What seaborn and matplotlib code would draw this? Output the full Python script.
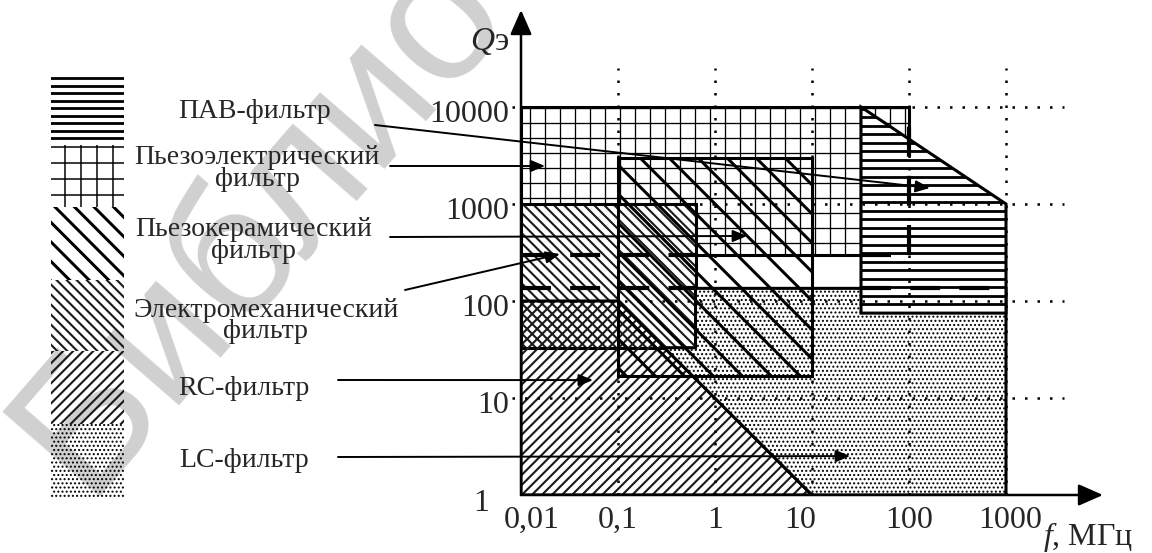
import numpy as np
import matplotlib
matplotlib.use("Agg")
import matplotlib.pyplot as plt
import matplotlib.transforms as mtransforms
from matplotlib.patches import Polygon, Rectangle
from matplotlib.collections import LineCollection
import seaborn as sns

# ------------------------------------------------------------------ data
f_ticks = [0.01, 0.1, 1, 10, 100, 1000]
f_labels = ["0,01", "0,1", "1", "10", "100", "1000"]
q_ticks = [1, 10, 100, 1000, 10000]
q_labels = ["1", "10", "100", "1000", "10000"]

# filter regions: frequency f (MHz) and quality factor Q
piezoelectric_f = [0.01, 100, 100, 0.01]
piezoelectric_q = [300, 300, 10000, 10000]
electromech_f = [0.01, 0.63, 0.63, 0.01]
electromech_q = [33, 33, 1000, 1000]
rc_f = [0.01, 10, 0.1, 0.01]
rc_q = [1, 1, 100, 100]
lc_f = [0.63, 1000, 1000, 10, 0.3, 0.63]
lc_q = [135, 135, 1, 1, 33, 33]
saw_f = [32, 1000, 1000, 32]
saw_q = [75, 75, 1000, 10000]
ceramic_f = [0.1, 10, 10, 0.1]
ceramic_q = [17, 17, 3000, 3000]

# dashed boundaries
dash_f = [[0.01, 0.63], [0.01, 0.63], [32, 100], [32, 1000], [100, 100]]
dash_q = [[300, 300], [135, 135], [300, 300], [135, 135], [300, 10000]]

names = ["ПАВ-фильтр", "Пьезоэлектрический\nфильтр", "Пьезокерамический\nфильтр",
         "Электромеханический\nфильтр", "RC-фильтр", "LC-фильтр"]
arrow_tip_f = [164, 0.0177, 2.14, 0.0252, 0.0552, 24.7]
arrow_tip_q = [1462, 2465, 468, 305, 15.3, 2.52]

# ------------------------------------------------------------------ style
sns.set_theme(style="white")
plt.rcParams["font.family"] = ["Liberation Serif", "DejaVu Serif"]
plt.rcParams["mathtext.fontset"] = "custom"
plt.rcParams["mathtext.it"] = "Liberation Serif:italic"
plt.rcParams["mathtext.rm"] = "Liberation Serif"
plt.rcParams["hatch.linewidth"] = 0.95
plt.rcParams["lines.solid_capstyle"] = "butt"

W, H = 1152, 553
fig = plt.figure(figsize=(W / 100, H / 100), dpi=100)
fig.patch.set_facecolor("white")
pix = mtransforms.Affine2D().scale(1, -1).translate(0, H)   # image pixels (top-left origin)

ax = fig.add_axes([521 / W, (H - 495) / H, (1103 - 521) / W, (495 - 10) / H])
ax.set_xscale("log")
ax.set_yscale("log")
ax.set_xlim(0.01, 1e4)
ax.set_ylim(1, 1e5)
ax.axis("off")

# watermark
fig.text(90, 508, "Библиотека БГУИР", transform=pix, rotation=49, rotation_mode="anchor",
         ha="left", va="baseline", fontsize=135, color="#d0d0d0",
         family=["Liberation Sans", "DejaVu Sans"], zorder=-5)


def line_hatch(clip, angle, spacing, lw_px, color="black", z=1.0, on_axes=True):
    a = np.deg2rad(angle)
    d = np.array([np.cos(a), np.sin(a)])
    n = np.array([-np.sin(a), np.cos(a)])
    L = 1400.0
    offs = np.arange(-L, L, spacing)
    segs = np.stack([offs[:, None] * n - L * d, offs[:, None] * n + L * d], axis=1)
    lc = LineCollection(segs, transform=mtransforms.IdentityTransform(),
                        linewidths=lw_px * 0.72, colors=color, zorder=z)
    lc.set_clip_path(clip)
    if on_axes:
        ax.add_collection(lc, autolim=False)
    else:
        fig.add_artist(lc)


def region(fv, qv, z, face="white", hatch=None):
    xy = np.column_stack([fv, qv])
    fill = Polygon(xy, closed=True, facecolor=face, edgecolor="black", lw=0,
                   hatch=hatch, zorder=z, transform=ax.transData)
    ax.add_patch(fill)
    edge = Polygon(xy, closed=True, facecolor="none", edgecolor="black", lw=2.2,
                   joinstyle="miter", zorder=z + 0.05, transform=ax.transData)
    ax.add_patch(edge)
    return fill


FINE = "#1a1a1a"
# layer 1: piezoelectric (grid)
p = region(piezoelectric_f, piezoelectric_q, 1)
line_hatch(p, 0, 15, 1.3, z=1.01)
line_hatch(p, 90, 15, 1.3, z=1.01)
# layer 2: electromechanical (fine \\)
p = region(electromech_f, electromech_q, 2)
line_hatch(p, -45, 7.1, 2.1, color=FINE, z=2.01)
# layer 3: RC (fine //)
p = region(rc_f, rc_q, 3, face="none")
line_hatch(p, 45, 7.1, 2.1, color=FINE, z=3.01)
# layer 4: LC (dots)
region(lc_f, lc_q, 4, face="white", hatch="....")
# layer 5: SAW (horizontal)
p = region(saw_f, saw_q, 5)
line_hatch(p, 0, 8.5, 2.8, z=5.01)
# layer 6: piezoceramic (thick \\)
p = region(ceramic_f, ceramic_q, 6, face="none")
line_hatch(p, -45, 20.5, 3.0, z=6.01)

# dashed boundaries
for fv, qv in zip(dash_f, dash_q):
    sns.lineplot(x=fv, y=qv, ax=ax, color="black", lw=3, linestyle=(0, (7.2, 4.6)),
                 estimator=None, sort=False, zorder=8, legend=False)

# dotted grid
for fx in f_ticks[1:]:
    ax.plot([fx, fx], [1, 2.5e4], color="black", lw=1.8, linestyle=(0, (1, 4)),
            zorder=9, clip_on=False)
for qy in q_ticks[1:]:
    ax.plot([0.008, 4000], [qy, qy], color="black", lw=1.8, linestyle=(0, (1, 4)),
            zorder=9, clip_on=False)

# axes arrows
ak = dict(arrowstyle="-|>,head_length=0.75,head_width=0.33", lw=1.8, color="black",
          mutation_scale=20, shrinkA=0, shrinkB=0)
ax.annotate("", xy=(1, 0), xytext=(0, 0), xycoords="axes fraction", arrowprops=ak,
            annotation_clip=False, zorder=10)
ax.annotate("", xy=(0, 1), xytext=(0, 0), xycoords="axes fraction", arrowprops=ak,
            annotation_clip=False, zorder=10)

# tick labels
xdx = [11, 0, 0, -12, 0, 4]
for v, lab, dx in zip(f_ticks, f_labels, xdx):
    ax.annotate(lab, xy=(v, 0), xycoords=("data", "axes fraction"),
                xytext=(dx * 0.72, -33 * 0.72), textcoords="offset points",
                ha="center", va="baseline", fontsize=23, annotation_clip=False)
ydx = [-32, -12, -12, -12, -12]
ydy = [16, 15, 15, 15, 15]
for v, lab, dx, dy in zip(q_ticks, q_labels, ydx, ydy):
    ax.annotate(lab, xy=(0, v), xycoords=("axes fraction", "data"),
                xytext=(dx * 0.72, -dy * 0.72), textcoords="offset points",
                ha="right", va="baseline", fontsize=23, annotation_clip=False)

fig.text(470, 50, r"$Q$э", transform=pix, fontsize=24, ha="left", va="baseline")
fig.text(1043, 545, r"$f$, МГц", transform=pix, fontsize=23, ha="left", va="baseline")

# legend swatches (left column)
sw_x0, sw_x1 = 51, 124
rows = [(73, 145), (145, 207), (207, 280), (280, 351), (351, 424), (424, 498)]
sw = []
for y0, y1 in rows:
    r = Rectangle((sw_x0, y0), sw_x1 - sw_x0, y1 - y0, transform=pix,
                  facecolor="none", edgecolor="none", lw=0, zorder=2)
    fig.add_artist(r)
    sw.append(r)
line_hatch(sw[0], 0, 7.5, 2.8, z=2.1, on_axes=False)
line_hatch(sw[1], 0, 15.7, 1.5, z=2.1, on_axes=False)
line_hatch(sw[1], 90, 15.7, 1.5, z=2.1, on_axes=False)
line_hatch(sw[2], -45, 13.8, 3.0, z=2.1, on_axes=False)
line_hatch(sw[3], -45, 7.1, 2.1, color=FINE, z=2.1, on_axes=False)
line_hatch(sw[4], 45, 7.1, 2.1, color=FINE, z=2.1, on_axes=False)
dots = Rectangle((sw_x0, rows[5][0]), sw_x1 - sw_x0, rows[5][1] - rows[5][0], transform=pix,
                 facecolor="none", edgecolor="black", lw=0, hatch="....", zorder=2)
fig.add_artist(dots)

# labels and pointer arrows
lab_cx = [255, 257, 254, 266, 244, 244]
lab_base = [118, 164, 236, 317, 395, 467]
arr_start = [(375, 125), (390, 166), (390, 237), (405, 290), (338, 380), (338, 457)]
pk = dict(arrowstyle="-|>,head_length=0.86,head_width=0.36", lw=1.4, color="black",
          mutation_scale=10, shrinkA=0, shrinkB=0)
for name, cx, by, (sx, sy), tf, tq in zip(names, lab_cx, lab_base, arr_start,
                                          arrow_tip_f, arrow_tip_q):
    for i, line in enumerate(name.split("\n")):
        fig.text(cx, by + 21.5 * i, line, transform=pix, fontsize=20,
                 ha="center", va="baseline", zorder=3)
    ax.annotate("", xy=(tf, tq), xycoords="data", xytext=(sx, H - sy),
                textcoords="figure pixels", arrowprops=pk, annotation_clip=False,
                zorder=11)

fig.savefig("out.png", dpi=100, facecolor="white")
